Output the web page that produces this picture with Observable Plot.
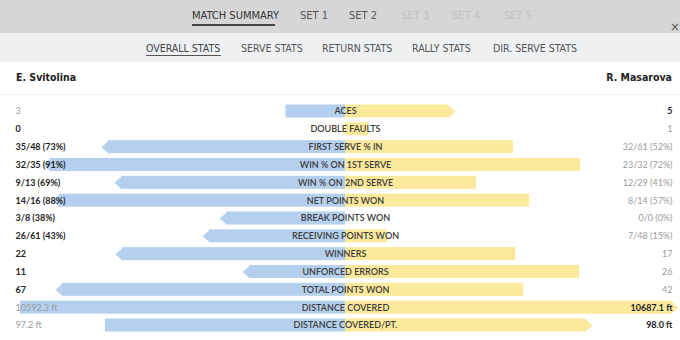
<!DOCTYPE html>
<html><head><meta charset="utf-8">
<script src="https://cdn.jsdelivr.net/npm/d3@7"></script>
<script src="https://cdn.jsdelivr.net/npm/@observablehq/plot@0.6"></script>
<style>
body{margin:0;background:#fff;}
#wrap{position:relative;width:680px;height:340px;overflow:hidden;font-family:"DejaVu Sans Condensed","Liberation Sans Narrow",Roboto,sans-serif;}
.band1{position:absolute;left:0;top:0;width:680px;height:33px;background:#d6d6d6;}
.band2{position:absolute;left:0;top:33px;width:680px;height:29px;background:#eef0f2;}
.t{position:absolute;white-space:nowrap;line-height:12px;}
.t1{font-size:11px;top:10px;color:#555;}
.t2{font-size:10.5px;top:42px;color:#555;}
.dim{color:#c2c2c2;}
.ul{position:absolute;height:1.5px;background:#444;}
.name{font-size:10.5px;top:71px;color:#222;font-weight:bold;}
.rule{position:absolute;left:0;top:94px;width:680px;height:1px;background:#efefef;}
#chart{position:absolute;left:0;top:95px;}
</style></head>
<body>
<div id="wrap">
  <div class="band1"></div>
  <div class="band2"></div>
  <div class="t t1" style="left:192px;color:#333">MATCH SUMMARY</div>
  <div class="ul" style="left:192px;top:24px;width:83px"></div>
  <div class="t t1" style="left:300px">SET 1</div>
  <div class="t t1" style="left:349px">SET 2</div>
  <div class="t t1 dim" style="left:401px">SET 3</div>
  <div class="t t1 dim" style="left:452px">SET 4</div>
  <div class="t t1 dim" style="left:504px">SET 5</div>
  <div class="t" style="left:670px;top:21px;font-size:13px;color:#555">×</div>
  <div class="t t2" style="left:146px;color:#444">OVERALL STATS</div>
  <div class="ul" style="left:146px;top:55px;width:75px;height:1px;background:#555"></div>
  <div class="t t2" style="left:241px">SERVE STATS</div>
  <div class="t t2" style="left:322px">RETURN STATS</div>
  <div class="t t2" style="left:412px">RALLY STATS</div>
  <div class="t t2" style="left:493px">DIR. SERVE STATS</div>
  <div class="t name" style="left:16px">E. Svitolina</div>
  <div class="t name" style="right:8px">R. Masarova</div>
  <div class="rule"></div>
  <div id="chart"></div>
</div>
<script>
const stats = ["ACES","DOUBLE FAULTS","FIRST SERVE % IN","WIN % ON 1ST SERVE","WIN % ON 2ND SERVE","NET POINTS WON","BREAK POINTS WON","RECEIVING POINTS WON","WINNERS","UNFORCED ERRORS","TOTAL POINTS WON","DISTANCE COVERED","DISTANCE COVERED/PT."];
const leftText = ["3","0","35/48 (73%)","32/35 (91%)","9/13 (69%)","14/16 (88%)","3/8 (38%)","26/61 (43%)","22","11","67","10592.3 ft","97.2 ft"];
const rightText = ["5","1","32/61 (52%)","23/32 (72%)","12/29 (41%)","8/14 (57%)","0/0 (0%)","7/48 (15%)","17","26","42","10687.1 ft","98.0 ft"];
// bar extent, % of half width
const leftBar = [17.9,0,73.3,90.7,69.4,88.0,37.8,42.9,69.1,30.9,87.1,97.6,72.1];
const rightBar = [33.0,6.9,50.5,70.6,39.3,55.3,0,12.6,51.1,70.3,53.5,100,74.2];
// side that wins the row
const winner = ["R","L","L","L","L","L","L","L","L","L","L","R","R"];

const BLUE = "#b5d0ef", YELLOW = "#fde99b";
const rows = stats.map((s,i)=>({stat:s, l:leftBar[i], r:rightBar[i], lt:leftText[i], rt:rightText[i], w:winner[i]}));
const tipU = 7*100/333;
const tip = {draw(ctx){ctx.moveTo(-0.5,-6.5);ctx.lineTo(7,0);ctx.lineTo(-0.5,6.5);ctx.closePath();}};

const lEnd = d => -(d.w==="L" ? d.l - tipU : d.l);
const rEnd = d => (d.w==="R" ? d.r - tipU : d.r);

const chart = Plot.plot({
  width:680, height:245,
  margin:0,
  style:{fontFamily:"Lato, sans-serif", background:"transparent"},
  x:{domain:[-100,100], range:[12,678], axis:null},
  y:{domain:stats, range:[7.085,238.915], paddingInner:0.27, paddingOuter:0.135, round:false, axis:null},
  marks:[
    Plot.barX(rows.filter(d=>d.l>0), {y:"stat", x1:lEnd, x2:0, fill:BLUE}),
    Plot.barX(rows.filter(d=>d.r>0), {y:"stat", x1:0, x2:rEnd, fill:YELLOW}),
    Plot.dot(rows.filter(d=>d.w==="L" && d.l>0), {x:lEnd, y:"stat", symbol:tip, rotate:180, fill:BLUE, stroke:null}),
    Plot.dot(rows.filter(d=>d.w==="R" && d.r>0), {x:rEnd, y:"stat", symbol:tip, fill:YELLOW, stroke:null}),
    Plot.text(rows, {x:0, y:"stat", text:"stat", fill:"#3c3c3c", fontSize:9, fontWeight:600}),
    Plot.text(rows.filter(d=>d.w==="L"), {y:"stat", text:"lt", frameAnchor:"left", dx:15, textAnchor:"start", fill:"#1e1e1e", fontSize:9, fontWeight:700}),
    Plot.text(rows.filter(d=>d.w!=="L"), {y:"stat", text:"lt", frameAnchor:"left", dx:15, textAnchor:"start", fill:"#9a9a9a", fontSize:9}),
    Plot.text(rows.filter(d=>d.w==="R"), {y:"stat", text:"rt", frameAnchor:"right", dx:-8, textAnchor:"end", fill:"#1e1e1e", fontSize:9, fontWeight:700}),
    Plot.text(rows.filter(d=>d.w!=="R"), {y:"stat", text:"rt", frameAnchor:"right", dx:-8, textAnchor:"end", fill:"#9a9a9a", fontSize:9})
  ]
});
document.getElementById("chart").appendChild(chart);
</script>
</body></html>
